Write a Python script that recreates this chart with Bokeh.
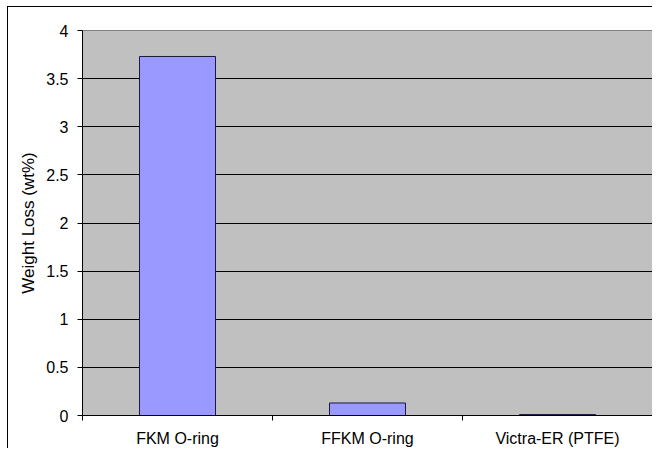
from bokeh.plotting import figure
from bokeh.models import ColumnDataSource, FixedTicker, Range1d
from bokeh.embed import file_html
from bokeh.resources import INLINE

categories = ["FKM O-ring", "FFKM O-ring", "Victra-ER (PTFE)"]
weight_loss = [3.73, 0.13, 0.01]
y_ticks = [0, 0.5, 1, 1.5, 2, 2.5, 3, 3.5, 4]

xs = [i + 0.5 for i in range(len(categories))]
source = ColumnDataSource(dict(x=xs, top=weight_loss, cat=categories))

FONT = "Liberation Sans"

p = figure(width=645, height=442, output_backend="svg", toolbar_location=None,
           x_range=Range1d(0, len(categories)), y_range=Range1d(0, 4),
           min_border_left=74, min_border_top=23, min_border_bottom=33, min_border_right=1)

# outer chart-area border (its right/bottom edges fall outside the picture)
p.styles = {"margin-left": "7px", "margin-top": "6px",
            "border-left": "1px solid black", "border-top": "1px solid black"}

p.background_fill_color = "#C0C0C0"
p.border_fill_color = "white"
p.outline_line_color = "#808080"
p.outline_line_width = 1

p.vbar(x="x", top="top", bottom=0, width=0.4, source=source,
       fill_color="#9999FF", line_color="#1a1a40", line_width=1)

# x axis
p.xaxis.ticker = FixedTicker(ticks=xs, minor_ticks=list(range(len(categories) + 1)))
p.xaxis.major_label_overrides = {x: c for x, c in zip(xs, categories)}
p.xaxis.major_tick_line_color = None
p.xaxis.major_tick_out = 0
p.xaxis.major_tick_in = 0
p.xaxis.minor_tick_line_color = "black"
p.xaxis.minor_tick_out = 5
p.xaxis.minor_tick_in = 0
p.xaxis.axis_line_color = "black"
p.xaxis.major_label_standoff = 9
p.xaxis.major_label_text_font = FONT
p.xaxis.major_label_text_font_size = "16px"
p.xaxis.major_label_text_color = "black"

# y axis
p.yaxis.ticker = FixedTicker(ticks=y_ticks, minor_ticks=[])
p.yaxis.major_label_overrides = {0: "0", 1: "1", 2: "2", 3: "3", 4: "4"}
p.yaxis.axis_line_color = "black"
p.yaxis.major_tick_line_color = "black"
p.yaxis.major_tick_out = 5
p.yaxis.major_tick_in = 0
p.yaxis.minor_tick_line_color = None
p.yaxis.major_label_standoff = 9
p.yaxis.major_label_text_font = FONT
p.yaxis.major_label_text_font_size = "16px"
p.yaxis.major_label_text_color = "black"
p.yaxis.axis_label = "Weight Loss (wt%)"
p.yaxis.axis_label_text_font = FONT
p.yaxis.axis_label_text_font_size = "17px"
p.yaxis.axis_label_text_font_style = "normal"
p.yaxis.axis_label_text_color = "black"
p.yaxis.axis_label_standoff = 5

p.xgrid.grid_line_color = None
p.ygrid.ticker = FixedTicker(ticks=y_ticks)
p.ygrid.grid_line_color = "black"
p.ygrid.grid_line_width = 1

open("out.html", "w").write(file_html(p, INLINE))
